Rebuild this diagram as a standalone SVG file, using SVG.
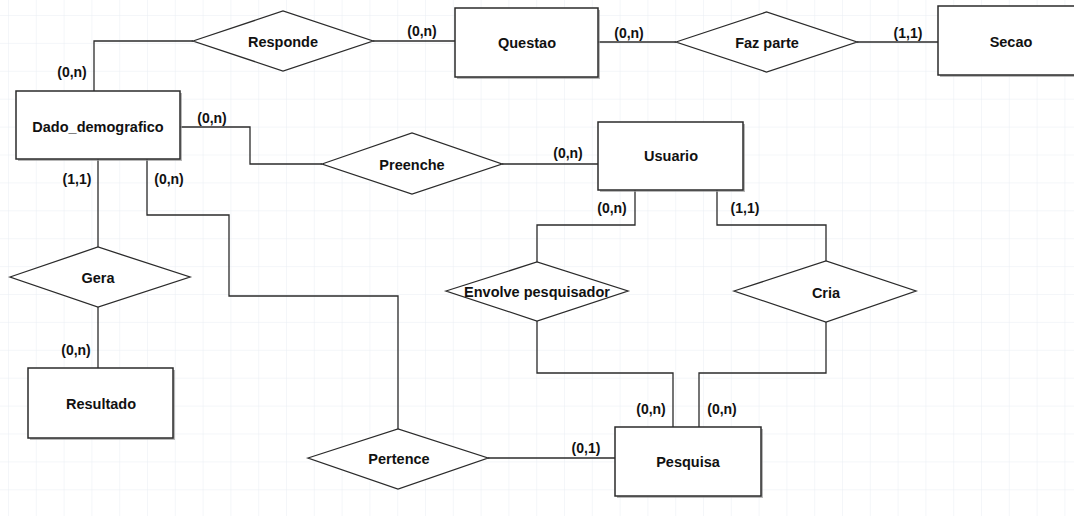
<svg xmlns="http://www.w3.org/2000/svg" width="1074" height="516" viewBox="0 0 1074 516">
<style>
.bg{fill:#ffffff}
.ent{fill:#ffffff;stroke:#2b2b2b;stroke-width:1.5}
.sh{fill:#9a9a9a;opacity:0.7}
.rel{fill:#ffffff;stroke:#2b2b2b;stroke-width:1.3}
.con{fill:none;stroke:#2b2b2b;stroke-width:1.3}
text{font-family:"Liberation Sans",Arial,sans-serif;font-weight:bold;fill:#111;text-anchor:middle}
.name{font-size:14.5px}
.card{font-size:14px}
</style>
<defs>
<pattern id="grid" x="8" y="15" width="27.8" height="27.9" patternUnits="userSpaceOnUse">
<path d="M0 0 H27.8 M0 0 V27.9" fill="none" stroke="#e9eef4" stroke-width="1"/>
</pattern>
</defs>
<rect class="bg" width="1074" height="516"/>
<rect width="1074" height="516" fill="url(#grid)"/>

<g id="connectors">
<polyline class="con" points="94,91 94,41 193,41"/>
<line class="con" x1="373" y1="41" x2="455" y2="41"/>
<line class="con" x1="598" y1="42" x2="676" y2="42"/>
<line class="con" x1="857" y1="42" x2="938" y2="42"/>
<polyline class="con" points="180,127 250,127 250,164 322,164"/>
<line class="con" x1="502" y1="164" x2="598" y2="164"/>
<polyline class="con" points="635,190 635,225 537,225 537,262"/>
<polyline class="con" points="717,190 717,225 826,225 826,261"/>
<polyline class="con" points="537,321 537,373 673,373 673,427"/>
<polyline class="con" points="826,322 826,373 699,373 699,427"/>
<line class="con" x1="98" y1="159" x2="98" y2="247"/>
<line class="con" x1="98" y1="307" x2="98" y2="368"/>
<polyline class="con" points="147,159 147,215 229,215 229,296 398,296 398,429"/>
<line class="con" x1="488" y1="458" x2="615" y2="458"/>
</g>

<g id="labels">
<text class="card" x="72" y="77">(0,n)</text>
<text class="card" x="422" y="36">(0,n)</text>
<text class="card" x="629" y="38">(0,n)</text>
<text class="card" x="908" y="38">(1,1)</text>
<text class="card" x="212" y="123">(0,n)</text>
<text class="card" x="568" y="158">(0,n)</text>
<text class="card" x="612" y="213">(0,n)</text>
<text class="card" x="745" y="213">(1,1)</text>
<text class="card" x="77" y="184">(1,1)</text>
<text class="card" x="169" y="184">(0,n)</text>
<text class="card" x="76" y="355">(0,n)</text>
<text class="card" x="586" y="453">(0,1)</text>
<text class="card" x="651" y="414">(0,n)</text>
<text class="card" x="722" y="414">(0,n)</text>
</g>

<g id="Dado_demografico">
<rect class="sh" x="18" y="93" width="164" height="68"/>
<rect class="ent" x="16" y="91" width="164" height="68"/>
<text class="name" x="98" y="132">Dado_demografico</text>
</g>
<g id="Questao">
<rect class="sh" x="457" y="10" width="143" height="69"/>
<rect class="ent" x="455" y="8" width="143" height="69"/>
<text class="name" x="527" y="48">Questao</text>
</g>
<g id="Secao">
<rect class="sh" x="940" y="8" width="146" height="69"/>
<rect class="ent" x="938" y="6" width="146" height="69"/>
<text class="name" x="1011" y="47">Secao</text>
</g>
<g id="Usuario">
<rect class="sh" x="600" y="124" width="145" height="68"/>
<rect class="ent" x="598" y="122" width="145" height="68"/>
<text class="name" x="671" y="161">Usuario</text>
</g>
<g id="Resultado">
<rect class="sh" x="30" y="370" width="145" height="70"/>
<rect class="ent" x="28" y="368" width="145" height="70"/>
<text class="name" x="101" y="409">Resultado</text>
</g>
<g id="Pesquisa">
<rect class="sh" x="617" y="429" width="146" height="69"/>
<rect class="ent" x="615" y="427" width="146" height="69"/>
<text class="name" x="688" y="467">Pesquisa</text>
</g>

<g id="Responde">
<polygon class="rel" points="193,41 283,11 373,41 283,71"/>
<text class="name" x="283" y="47">Responde</text>
</g>
<g id="Faz_parte">
<polygon class="rel" points="676,42 766.5,12 857,42 766.5,72"/>
<text class="name" x="767" y="48">Faz parte</text>
</g>
<g id="Preenche">
<polygon class="rel" points="322,164 412,133 502,164 412,194"/>
<text class="name" x="412" y="170">Preenche</text>
</g>
<g id="Envolve_pesquisador">
<polygon class="rel" points="446,291 537,262 628,291 537,321"/>
<text class="name" x="537" y="297">Envolve pesquisador</text>
</g>
<g id="Cria">
<polygon class="rel" points="734,291 826,261 916,291 826,322"/>
<text class="name" x="826" y="298">Cria</text>
</g>
<g id="Gera">
<polygon class="rel" points="10,277 98,247 190,277 98,307"/>
<text class="name" x="98" y="283">Gera</text>
</g>
<g id="Pertence">
<polygon class="rel" points="308,458 398,429 488,458 398,489"/>
<text class="name" x="399" y="464">Pertence</text>
</g>
</svg>
